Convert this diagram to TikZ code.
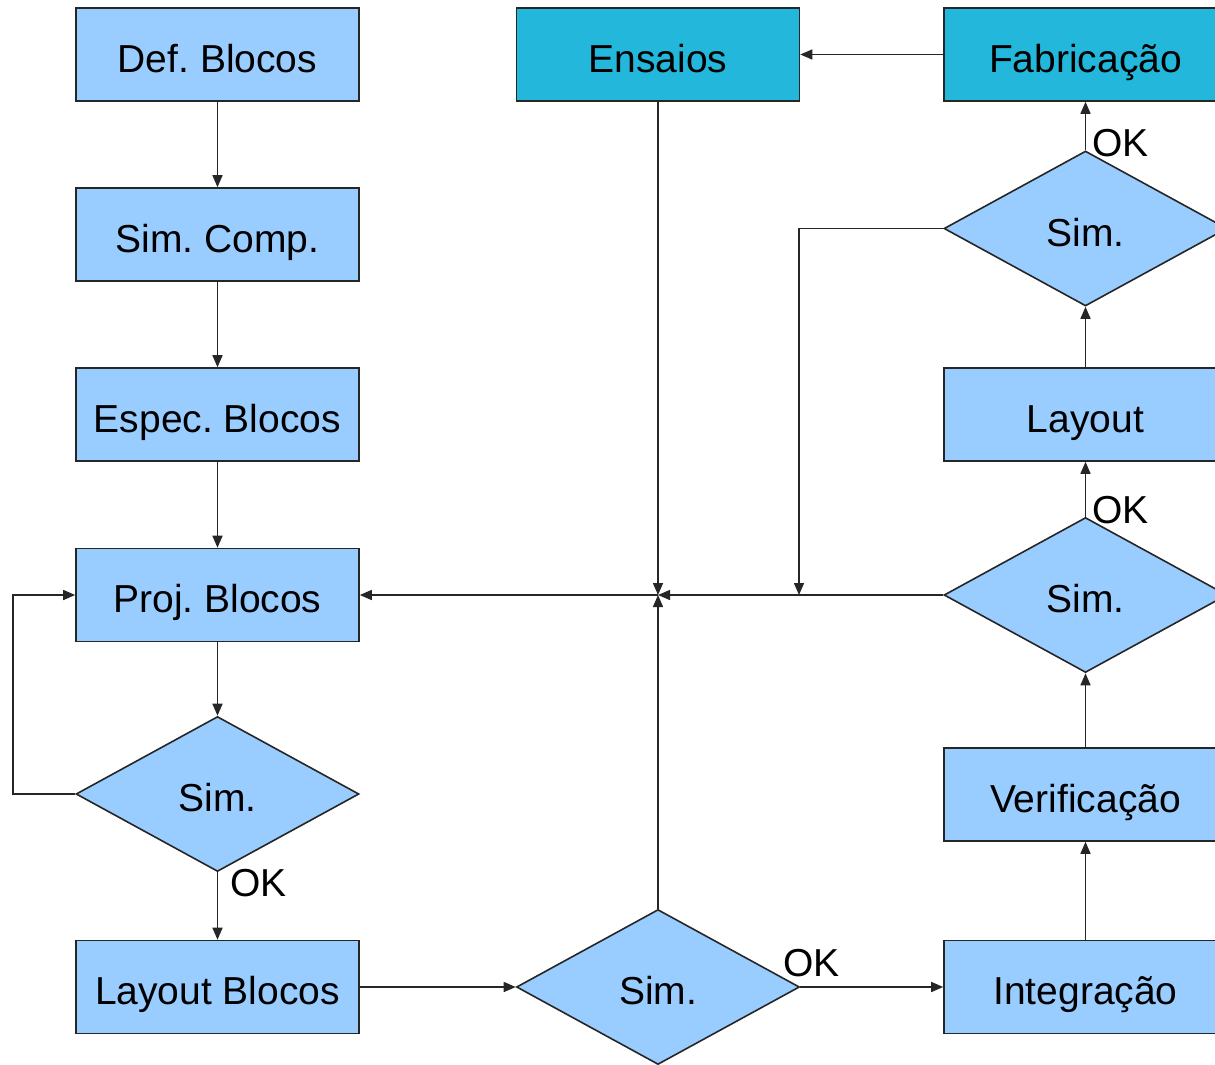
\documentclass[tikz,border=0pt]{standalone}
\usepackage{fontspec}
\setmainfont{Liberation Sans}
\frenchspacing
\usetikzlibrary{shapes.geometric,arrows.meta}
\definecolor{boxblue}{HTML}{99CCFF}
\definecolor{boxcyan}{HTML}{23B7DC}
\begin{document}
\begin{tikzpicture}[x=1pt,y=-1pt,
  every node/.style={font=\fontsize{39}{44}\selectfont},
  txt/.style={text height=35pt,text depth=0pt},
  blk/.style={txt,draw=black!85,line width=1.6pt,fill=boxblue,rectangle,
    minimum width=283pt,minimum height=93pt,inner sep=0pt},
  blkc/.style={blk,fill=boxcyan},
  dec/.style={txt,draw=black!85,line width=1.6pt,fill=boxblue,diamond,aspect=1.83,
    minimum width=283pt,minimum height=155pt,inner sep=0pt},
  lbl/.style={inner sep=0pt,anchor=west},
  arr/.style={draw=black!85,line width=1.5pt,-{Triangle[length=12pt,width=10pt]}}]
\clip (0,0) rectangle (1215,1065);
\fill[white] (0,0) rectangle (1215,1065);

% left column
\node[blk] (def)  at (217.5,54.5)  {Def. Blocos};
\node[blk] (sc)   at (217.5,234.5) {Sim. Comp.};
\node[blk] (esp)  at (217.5,414.5) {Espec. Blocos};
\node[blk] (proj) at (217.5,595)   {Proj. Blocos};
\node[dec] (d1)   at (217.5,794)   {Sim.};
\node[blk] (lb)   at (217.5,987)   {Layout Blocos};

% middle column
\node[blkc] (ens) at (658,54.5)  {Ensaios};
\node[dec]  (d2)  at (658,987)   {Sim.};

% right column
\node[blkc] (fab) at (1085.5,54.5)  {Fabricação};
\node[dec]  (d4)  at (1085.5,228.5) {Sim.};
\node[blk]  (lay) at (1085.5,414.5) {Layout};
\node[dec]  (d3)  at (1085.5,595)   {Sim.};
\node[blk]  (ver) at (1085.5,794.5) {Verificação};
\node[blk]  (int) at (1085.5,987)   {Integração};

% junction points
\coordinate (J)  at (658,595);
\coordinate (K)  at (799,595);
\coordinate (L)  at (13,794);

% left flow
\draw[arr] (def) -- (sc);
\draw[arr] (sc) -- (esp);
\draw[arr] (esp) -- (proj);
\draw[arr] (proj) -- (d1);
\draw[arr] (d1) -- (lb);
\draw[arr] (d1.west) -- (L) |- (proj.west);
\draw[arr] (lb) -- (d2);
\draw[arr] (d2) -- (int);

% right flow
\draw[arr] (int) -- (ver);
\draw[arr] (ver) -- (d3);
\draw[arr] (d3) -- (lay);
\draw[arr] (lay) -- (d4);
\draw[arr] (d4) -- (fab);
\draw[arr] (fab) -- (ens);

% feedback to the junction
\draw[arr] (ens) -- (J);
\draw[arr] (d2) -- (J);
\draw[arr] (d3.west) -- (J);
\draw[arr] (d4.west) -| (K);
\draw[arr] (J) -- (proj);

% labels
\node[lbl] (ok1) at (230,883)  {OK};
\node[lbl] (ok2) at (783,963)  {OK};
\node[lbl] (ok3) at (1092,510) {OK};
\node[lbl] (ok4) at (1092,143) {OK};
\end{tikzpicture}
\end{document}
